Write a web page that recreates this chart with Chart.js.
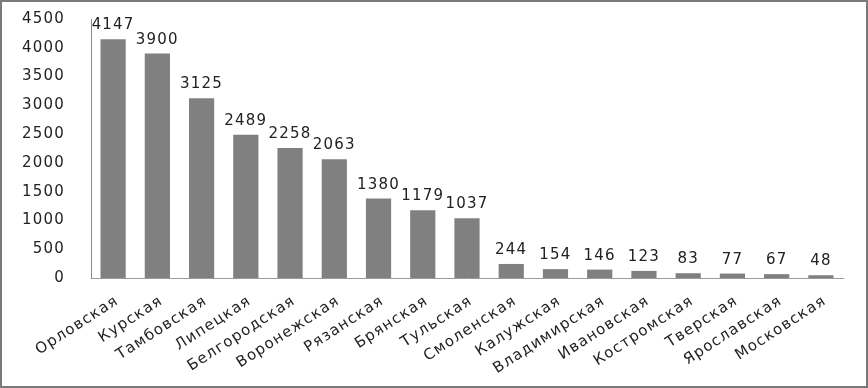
<!DOCTYPE html>
<html>
<head>
<meta charset="utf-8">
<script src="https://cdn.jsdelivr.net/npm/chart.js@4"></script>
<style>
    html, body { margin: 0; padding: 0; background: #fff; }
    #frame {
        width: 868px; height: 388px; box-sizing: border-box;
        border: 2px solid #7a7a7a; background: #fff;
    }
    #regionsChart { display: block; }
</style>
</head>
<body>
<div id="frame"><canvas id="regionsChart" width="864" height="384"></canvas></div>
<script>
const regions = ["Орловская", "Курская", "Тамбовская", "Липецкая", "Белгородская", "Воронежская",
    "Рязанская", "Брянская", "Тульская", "Смоленская", "Калужская", "Владимирская", "Ивановская",
    "Костромская", "Тверская", "Ярославская", "Московская"];
const values = [4147, 3900, 3125, 2489, 2258, 2063, 1380, 1179, 1037, 244, 154, 146, 123, 83, 77, 67, 48];
const yTicks = [0, 500, 1000, 1500, 2000, 2500, 3000, 3500, 4000, 4500];

const fontFamily = "'DejaVu Sans', Verdana, sans-serif";

// текст в оригинале шире обычного, немного разрядка
const wideText = {
    id: "wideText",
    beforeUpdate(chart) { chart.ctx.letterSpacing = "1.2px"; },
    beforeDraw(chart) { chart.ctx.letterSpacing = "1.2px"; }
};

// подписи значений над столбцами
const valueLabels = {
    id: "valueLabels",
    afterDatasetsDraw(chart) {
        const ctx = chart.ctx;
        const meta = chart.getDatasetMeta(0);
        ctx.save();
        ctx.font = "15px " + fontFamily;
        ctx.fillStyle = "#222";
        ctx.textAlign = "center";
        ctx.textBaseline = "alphabetic";
        meta.data.forEach((bar, i) => {
            ctx.fillText(values[i], bar.x, bar.y - 10);
        });
        ctx.restore();
    }
};

new Chart(document.getElementById("regionsChart").getContext("2d"), {
    type: "bar",
    data: {
        labels: regions,
        datasets: [{
            data: values,
            backgroundColor: "#808080",
            borderWidth: 0,
            barPercentage: 0.57,
            categoryPercentage: 1
        }]
    },
    options: {
        responsive: false,
        animation: false,
        layout: { padding: { top: 17, right: 23, left: 0, bottom: 0 } },
        scales: {
            x: {
                grid: { display: false },
                border: { display: true, color: "#9a9a9a", width: 1 },
                ticks: {
                    color: "#222",
                    font: { family: fontFamily, size: 15 },
                    minRotation: 33,
                    maxRotation: 33,
                    autoSkip: false,
                    padding: 6,
                    labelOffset: 4
                },
                afterFit(scale) { scale.height = 108; }
            },
            y: {
                min: 0,
                max: 4500,
                grid: { display: false },
                border: { display: true, color: "#8a8a8a", width: 1 },
                afterBuildTicks(scale) { scale.ticks = yTicks.map(v => ({ value: v })); },
                ticks: {
                    color: "#222",
                    font: { family: fontFamily, size: 15 },
                    padding: 18,
                    callback: value => String(value)
                },
                afterFit(scale) {
                    scale.width = 89;
                    scale.paddingTop = 0;
                    scale.paddingBottom = 0;
                }
            }
        },
        plugins: {
            legend: { display: false },
            tooltip: { enabled: false }
        }
    },
    plugins: [wideText, valueLabels]
});
</script>
</body>
</html>
